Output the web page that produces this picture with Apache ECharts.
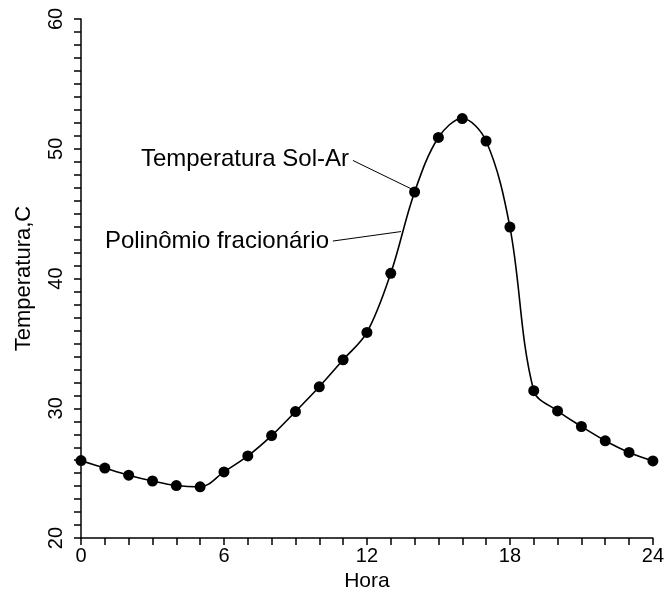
<!DOCTYPE html>
<html lang="pt">
<head>
    <meta charset="UTF-8">
    <title>Temperatura Sol-Ar</title>
    <script src="https://cdn.jsdelivr.net/npm/echarts@6/dist/echarts.min.js"></script>
    <style>
        html, body { margin: 0; padding: 0; background: #fff; }
        #chart { width: 667px; height: 597px; }
    </style>
</head>
<body>
<div id="chart"></div>
<script type="text/javascript">
    // horas e temperatura sol-ar
    var hours = [0, 1, 2, 3, 4, 5, 6, 7, 8, 9, 10, 11, 12, 13, 14, 15, 16, 17, 18, 19, 20, 21, 22, 23, 24];
    var tempSolAr = [25.97, 25.4, 24.85, 24.4, 24.05, 23.95, 25.1, 26.33, 27.9, 29.75, 31.66, 33.74, 35.85,
        40.4, 46.67, 50.87, 52.33, 50.6, 43.97, 31.36, 29.8, 28.6, 27.5, 26.6, 25.95];
    var xTickLabels = [0, 6, 12, 18, 24];
    var yTickLabels = [20, 30, 40, 50, 60];

    // linhas de chamada (coordenadas em dados)
    var calloutSolAr = [[11.41, 49.1], [13.85, 46.92]];
    var calloutPoly = [[10.57, 42.89], [13.43, 43.62]];

    var pts = hours.map(function (h, i) { return [h, tempSolAr[i]]; });
    var font = 'Arial, "Liberation Sans", sans-serif';

    var option = {
        animation: false,
        grid: { left: 81, right: 13, top: 19, bottom: 58 },
        xAxis: {
            type: 'value', min: 0, max: 24, interval: 1,
            name: 'Hora', nameLocation: 'middle', nameGap: 31,
            nameTextStyle: { fontFamily: font, fontSize: 21, color: '#000' },
            axisLine: { lineStyle: { color: '#000', width: 1.5 } },
            axisTick: { length: 7, lineStyle: { color: '#000', width: 1.5 } },
            axisLabel: {
                margin: 8, fontFamily: font, fontSize: 20, color: '#000',
                formatter: function (v) { return xTickLabels.indexOf(v) >= 0 ? String(v) : ''; }
            },
            splitLine: { show: false }
        },
        yAxis: {
            type: 'value', min: 20, max: 60, interval: 1,
            name: 'Temperatura,C', nameLocation: 'middle', nameGap: 46,
            nameTextStyle: { fontFamily: font, fontSize: 22, color: '#000' },
            axisLine: { show: true, lineStyle: { color: '#000', width: 1.5 } },
            axisTick: { show: true, length: 7, lineStyle: { color: '#000', width: 1.5 } },
            axisLabel: {
                margin: 15, rotate: 90, fontFamily: font, fontSize: 20, color: '#000',
                formatter: function (v) { return yTickLabels.indexOf(v) >= 0 ? String(v) : ''; }
            },
            splitLine: { show: false }
        },
        graphic: [
            { type: 'text', right: 667 - 349, top: 147, style: { text: 'Temperatura Sol-Ar', font: '24px ' + font, fill: '#000' } },
            { type: 'text', right: 667 - 329, top: 229, style: { text: 'Polinômio fracionário', font: '24px ' + font, fill: '#000' } }
        ],
        series: [
            {
                name: 'Polinômio fracionário',
                type: 'line',
                data: pts,
                smooth: 0.35,
                showSymbol: false,
                lineStyle: { color: '#000', width: 1.6 },
                markLine: {
                    silent: true, symbol: 'none', label: { show: false },
                    lineStyle: { color: '#000', width: 1, type: 'solid' },
                    data: [
                        [{ coord: calloutSolAr[0] }, { coord: calloutSolAr[1] }],
                        [{ coord: calloutPoly[0] }, { coord: calloutPoly[1] }]
                    ]
                }
            },
            {
                name: 'Temperatura Sol-Ar',
                type: 'scatter',
                data: pts,
                symbol: 'circle',
                symbolSize: 11,
                itemStyle: { color: '#000', opacity: 1 },
                z: 3
            }
        ]
    };

    var chart = echarts.init(document.getElementById('chart'), null, { renderer: 'canvas' });
    chart.setOption(option);
</script>
</body>
</html>
